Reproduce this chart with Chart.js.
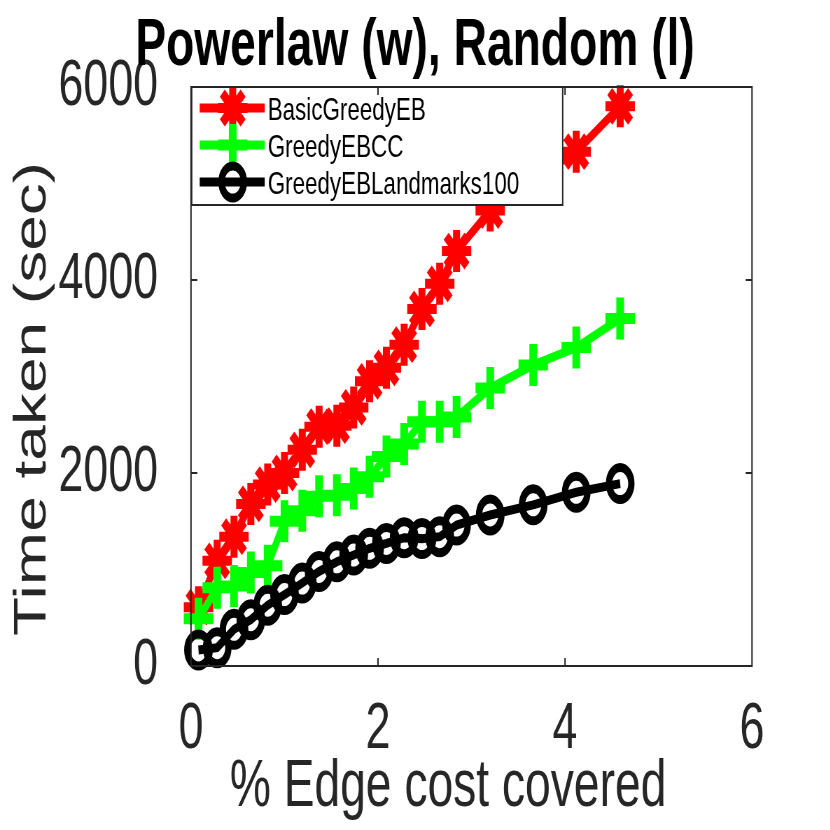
<!DOCTYPE html>
<html>
<head>
<meta charset="utf-8">
<script src="https://cdn.jsdelivr.net/npm/chart.js@4.4.1/dist/chart.umd.min.js"></script>
<style>
  html, body { margin: 0; padding: 0; background: #fff; overflow: hidden; }
  /* the original figure is squeezed sideways, so draw wide and squeeze it */
  #chart { transform: scaleX(0.7); transform-origin: 0 0; display: block; }
</style>
</head>
<body>
<canvas id="chart" width="1186" height="830"></canvas>
<script>
// % edge cost covered (shared by all three runs)
const edgeCost = [0.08, 0.28, 0.46, 0.64, 0.82, 1.0, 1.19, 1.37, 1.56, 1.74,
                  1.91, 2.09, 2.28, 2.47, 2.66, 2.84, 3.2, 3.66, 4.12, 4.59];

// time taken (sec)
const basicGreedyEB = [610, 1090, 1340, 1680, 1880, 2000, 2240, 2480, 2490, 2680,
                       2950, 3090, 3330, 3700, 3960, 4300, 4720, 5050, 5330, 5800];
const greedyEBCC = [490, 810, 830, 970, 1040, 1500, 1610, 1760, 1770, 1840,
                    1960, 2170, 2300, 2530, 2530, 2580, 2880, 3120, 3300, 3600];
const greedyEBLandmarks = [166, 190, 380, 480, 630, 740, 860, 980, 1080, 1150,
                           1220, 1270, 1330, 1320, 1340, 1460, 1565, 1670, 1800, 1890];

const seriesNames = ['BasicGreedyEB', 'GreedyEBCC', 'GreedyEBLandmarks100'];
const xTicks = [0, 2, 4, 6];
const yTicks = [0, 2000, 4000, 6000];
const titleText = 'Powerlaw (w), Random (l)';
const xLabel = '% Edge cost covered';
const yLabel = 'Time taken (sec)';

const SX = 0.7; // horizontal squeeze, same as the css transform
const font = "'Liberation Sans', Arial, sans-serif";
const axisColor = '#262626';

function pts(ys) {
  return ys.map((y, i) => ({ x: edgeCost[i], y: y }));
}

function drawMarker(ctx, style, r, x, y) {
  ctx.beginPath();
  if (style === 'circle') {
    ctx.arc(x, y, r, 0, Math.PI * 2);
  } else {
    ctx.moveTo(x - r, y); ctx.lineTo(x + r, y);
    ctx.moveTo(x, y - r); ctx.lineTo(x, y + r);
    if (style === 'star') {
      const d = r * Math.SQRT1_2;
      ctx.moveTo(x - d, y - d); ctx.lineTo(x + d, y + d);
      ctx.moveTo(x - d, y + d); ctx.lineTo(x + d, y - d);
    }
  }
  ctx.stroke();
}

// title and axis labels sit off-centre in the original, so place them by hand
const labels = {
  id: 'labels',
  afterDraw(chart) {
    const ctx = chart.ctx;
    ctx.save();
    ctx.textAlign = 'center';
    ctx.textBaseline = 'alphabetic';
    ctx.fillStyle = '#000';
    ctx.font = 'bold 66px ' + font;
    ctx.fillText(titleText, 415 / SX, 65);
    ctx.fillStyle = axisColor;
    ctx.font = '66px ' + font;
    ctx.fillText(xLabel, 448 / SX, 806);
    ctx.translate(33 / SX, 399);
    ctx.rotate(-Math.PI / 2);
    ctx.textBaseline = 'middle';
    ctx.font = '64px ' + font;
    ctx.fillText(yLabel, 0, 0);
    ctx.restore();
  }
};

// legend in the top-left corner of the axes, matlab style
const legendBox = {
  id: 'legendBox',
  afterDatasetsDraw(chart) {
    const { ctx, chartArea } = chart;
    const x0 = chartArea.left + 1, y0 = chartArea.top;
    const w = 371 / SX, h = 118;
    ctx.save();
    ctx.fillStyle = '#fff';
    ctx.fillRect(x0, y0, w, h);
    ctx.strokeStyle = axisColor;
    ctx.lineWidth = 2;
    ctx.strokeRect(x0, y0, w, h);
    seriesNames.forEach((name, i) => {
      const ds = chart.data.datasets.find(d => d.label === name);
      const y = y0 + 21 + i * 37;
      ctx.strokeStyle = ds.borderColor;
      ctx.lineWidth = ds.borderWidth;
      ctx.beginPath();
      ctx.moveTo(x0 + 8 / SX, y);
      ctx.lineTo(x0 + 73 / SX, y);
      ctx.stroke();
      ctx.lineWidth = ds.pointBorderWidth;
      drawMarker(ctx, ds.pointStyle, ds.pointRadius, x0 + 41 / SX, y);
      ctx.fillStyle = '#000';
      ctx.font = '32px ' + font;
      ctx.textBaseline = 'middle';
      ctx.textAlign = 'left';
      ctx.fillText(name, x0 + 76 / SX, y + 3);
    });
    ctx.restore();
  }
};

// box round the axes with inward ticks on all four sides
const axesBox = {
  id: 'axesBox',
  afterDraw(chart) {
    const { ctx, chartArea: a, scales } = chart;
    ctx.save();
    ctx.strokeStyle = axisColor;
    ctx.lineWidth = 2;
    ctx.strokeRect(a.left, a.top, a.right - a.left, a.bottom - a.top);
    ctx.beginPath();
    xTicks.slice(1, -1).forEach(v => {
      const px = scales.x.getPixelForValue(v);
      ctx.moveTo(px, a.bottom); ctx.lineTo(px, a.bottom - 8);
      ctx.moveTo(px, a.top); ctx.lineTo(px, a.top + 8);
    });
    yTicks.slice(1, -1).forEach(v => {
      const py = scales.y.getPixelForValue(v);
      ctx.moveTo(a.left, py); ctx.lineTo(a.left + 9, py);
      ctx.moveTo(a.right, py); ctx.lineTo(a.right - 9, py);
    });
    ctx.stroke();
    ctx.restore();
  }
};

new Chart(document.getElementById('chart'), {
  type: 'line',
  data: {
    datasets: [
      {
        label: seriesNames[0],
        data: pts(basicGreedyEB),
        borderColor: '#ff0000',
        borderWidth: 9,
        pointStyle: 'star',
        pointRadius: 21,
        pointBorderWidth: 10,
        pointBorderColor: '#ff0000',
        pointBackgroundColor: 'rgba(0,0,0,0)',
        order: 3
      },
      {
        label: seriesNames[1],
        data: pts(greedyEBCC),
        borderColor: '#00ff00',
        borderWidth: 9,
        pointStyle: 'cross',
        pointRadius: 21,
        pointBorderWidth: 11,
        pointBorderColor: '#00ff00',
        pointBackgroundColor: 'rgba(0,0,0,0)',
        order: 2
      },
      {
        label: seriesNames[2],
        data: pts(greedyEBLandmarks),
        borderColor: '#000000',
        borderWidth: 9,
        pointStyle: 'circle',
        pointRadius: 16,
        pointBorderWidth: 9,
        pointBorderColor: '#000000',
        pointBackgroundColor: 'rgba(0,0,0,0)',
        order: 1
      }
    ]
  },
  options: {
    responsive: false,
    animation: false,
    clip: false,
    layout: { padding: { left: 0, right: 1186 - 752 / SX, top: 87, bottom: 0 } },
    plugins: {
      legend: { display: false },
      tooltip: { enabled: false },
      title: { display: false }
    },
    scales: {
      x: {
        type: 'linear',
        min: 0,
        max: 6,
        afterBuildTicks: s => { s.ticks = xTicks.map(v => ({ value: v })); },
        afterFit: s => { s.height = 164; },
        grid: { display: false, drawTicks: false },
        border: { display: false },
        ticks: { color: axisColor, padding: 26, callback: v => String(v), font: { family: font, size: 64 } }
      },
      y: {
        type: 'linear',
        min: 0,
        max: 6000,
        afterBuildTicks: s => { s.ticks = yTicks.map(v => ({ value: v })); },
        afterFit: s => { s.width = 191 / SX; },
        grid: { display: false, drawTicks: false },
        border: { display: false },
        ticks: { color: axisColor, padding: 47, callback: v => String(v), font: { family: font, size: 64 } }
      }
    }
  },
  plugins: [legendBox, axesBox, labels]
});
</script>
</body>
</html>
